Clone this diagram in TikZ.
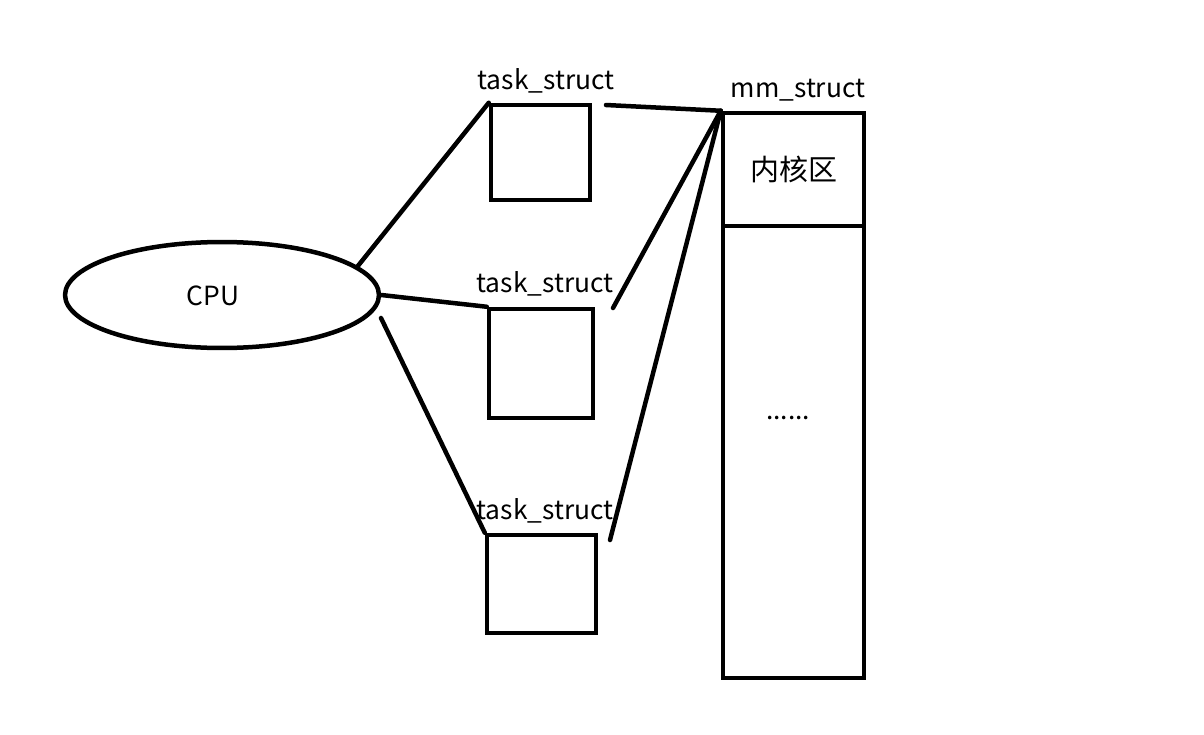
\documentclass[tikz,border=0pt]{standalone}
\usepackage{fontspec}
\setmainfont{Noto Sans CJK SC}
\usetikzlibrary{shapes.geometric}
\tikzset{
	thick line/.style = {line width=0.09cm},
	box/.style = {draw, thick line, rectangle, inner sep=0pt},
	tag/.style = {inner sep=0pt, font=\fontsize{15}{18}\selectfont}
}
\begin{document}
\begin{tikzpicture}[x=0.02cm, y=-0.02cm, line cap=round]
	\useasboundingbox (0,0) rectangle (1204,734);
	\node [draw, thick line, ellipse, minimum width=6.28cm, minimum height=2.12cm] (cpu) at (222,295) {};
	\node [tag] (cpulab) at (213,296) {CPU};
	\node [box, minimum width=1.98cm, minimum height=1.90cm] (ts1) at (540.5,152.5) {};
	\node [box, minimum width=2.08cm, minimum height=2.18cm] (ts2) at (541,363.5) {};
	\node [box, minimum width=2.18cm, minimum height=1.96cm] (ts3) at (541.5,584) {};
	\node [tag] (lab1) at (546,81) {task\_struct};
	\node [tag] (lab2) at (545,284) {task\_struct};
	\node [tag] (lab3) at (545,511) {task\_struct};
	\node [box, minimum width=2.82cm, minimum height=2.26cm, tag, font=\fontsize{16.5}{19}\selectfont] (kern) at (793.5,169.5) {内核区};
	\node [box, minimum width=2.82cm, minimum height=9.04cm] (rest) at (793.5,452) {};
	\node [tag] (mmlab) at (798,90) {mm\_struct};
	\node [tag] (dots) at (788,418) {......};
	% ends of the lines that stop short of a box
	\coordinate (c3) at (381,318);
	\coordinate (r1) at (606,105);
	\coordinate (r2) at (613,308);
	\coordinate (r3) at (610,540);
	\draw [thick line] (cpu.12) -- (ts1.north west);
	\draw [thick line] (cpu.east) -- (ts2.north west);
	\draw [thick line] (c3) -- (ts3.north west);
	\draw [thick line] (r1) -- (kern.north west);
	\draw [thick line] (r2) -- (kern.north west);
	\draw [thick line] (r3) -- (kern.north west);
\end{tikzpicture}
\end{document}
